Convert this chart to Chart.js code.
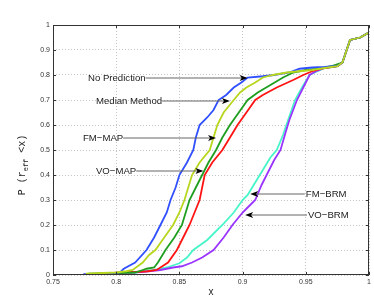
<!DOCTYPE html>
<html>
<head>
<meta charset="utf-8">
<script src="https://cdn.jsdelivr.net/npm/chart.js@4"></script>
<style>
  body { margin: 0; background: #fff; }
  canvas { display: block; }
</style>
</head>
<body>
<canvas id="cdf" width="374" height="298"></canvas>
<script>
// axis ticks
const xTicks = [0.75, 0.8, 0.85, 0.9, 0.95, 1];
const yTicks = [0, 0.1, 0.2, 0.3, 0.4, 0.5, 0.6, 0.7, 0.8, 0.9, 1];

// series
const noPredX = [0.774, 0.790, 0.803, 0.806, 0.815, 0.824, 0.830, 0.835, 0.840, 0.843, 0.847, 0.850, 0.856, 0.861, 0.863, 0.866, 0.872, 0.877, 0.881, 0.887, 0.893, 0.899, 0.904, 0.916, 0.925, 0.937, 0.945, 0.955, 0.965, 0.975, 0.979, 0.985, 0.993, 1.0];
const noPredY = [0.003, 0.005, 0.01, 0.025, 0.05, 0.10, 0.15, 0.20, 0.25, 0.30, 0.35, 0.40, 0.45, 0.50, 0.55, 0.60, 0.63, 0.66, 0.70, 0.72, 0.75, 0.77, 0.79, 0.795, 0.80, 0.81, 0.825, 0.83, 0.832, 0.836, 0.85, 0.94, 0.95, 0.97];

const medianX = [0.776, 0.790, 0.800, 0.808, 0.813, 0.821, 0.826, 0.831, 0.838, 0.845, 0.850, 0.854, 0.857, 0.860, 0.866, 0.874, 0.877, 0.880, 0.885, 0.893, 0.898, 0.903, 0.910, 0.916, 0.924, 0.935, 0.945, 0.955, 0.965, 0.975, 0.979, 0.985, 0.993, 1.0];
const medianY = [0.005, 0.008, 0.01, 0.015, 0.02, 0.05, 0.08, 0.10, 0.15, 0.20, 0.25, 0.30, 0.35, 0.40, 0.45, 0.50, 0.55, 0.60, 0.65, 0.70, 0.73, 0.75, 0.77, 0.79, 0.80, 0.81, 0.815, 0.82, 0.828, 0.835, 0.85, 0.94, 0.95, 0.97];

const fmMapX = [0.778, 0.800, 0.815, 0.821, 0.824, 0.830, 0.833, 0.839, 0.846, 0.852, 0.855, 0.858, 0.863, 0.868, 0.873, 0.879, 0.884, 0.890, 0.897, 0.904, 0.912, 0.922, 0.932, 0.940, 0.950, 0.960, 0.970, 0.979, 0.985, 0.993, 1.0];
const fmMapY = [0.005, 0.008, 0.01, 0.02, 0.025, 0.03, 0.05, 0.10, 0.15, 0.20, 0.25, 0.30, 0.35, 0.40, 0.45, 0.50, 0.55, 0.60, 0.65, 0.70, 0.73, 0.76, 0.79, 0.81, 0.82, 0.825, 0.835, 0.85, 0.94, 0.95, 0.97];

const voMapX = [0.787, 0.805, 0.815, 0.825, 0.832, 0.838, 0.841, 0.848, 0.853, 0.858, 0.862, 0.866, 0.868, 0.870, 0.876, 0.884, 0.890, 0.896, 0.903, 0.910, 0.916, 0.927, 0.940, 0.948, 0.955, 0.965, 0.975, 0.979, 0.985, 0.993, 1.0];
const voMapY = [0.005, 0.01, 0.012, 0.015, 0.02, 0.04, 0.05, 0.10, 0.15, 0.20, 0.25, 0.30, 0.35, 0.40, 0.45, 0.50, 0.55, 0.60, 0.65, 0.70, 0.72, 0.75, 0.78, 0.80, 0.815, 0.828, 0.835, 0.85, 0.94, 0.95, 0.97];

const fmBrmX = [0.781, 0.800, 0.815, 0.830, 0.840, 0.850, 0.856, 0.861, 0.872, 0.884, 0.893, 0.900, 0.904, 0.910, 0.916, 0.922, 0.927, 0.932, 0.936, 0.9415, 0.947, 0.953, 0.957, 0.965, 0.975, 0.979, 0.985, 0.993, 1.0];
const fmBrmY = [0.003, 0.005, 0.01, 0.02, 0.03, 0.047, 0.07, 0.10, 0.14, 0.20, 0.25, 0.30, 0.32, 0.37, 0.42, 0.47, 0.50, 0.56, 0.62, 0.70, 0.75, 0.80, 0.81, 0.828, 0.835, 0.85, 0.94, 0.95, 0.97];

const voBrmX = [0.787, 0.800, 0.820, 0.835, 0.845, 0.852, 0.860, 0.868, 0.877, 0.885, 0.892, 0.900, 0.904, 0.910, 0.915, 0.919, 0.925, 0.930, 0.934, 0.937, 0.943, 0.948, 0.953, 0.958, 0.965, 0.975, 0.979, 0.985, 0.993, 1.0];
const voBrmY = [0.003, 0.008, 0.012, 0.02, 0.03, 0.035, 0.05, 0.07, 0.10, 0.15, 0.20, 0.25, 0.27, 0.30, 0.36, 0.40, 0.46, 0.50, 0.57, 0.62, 0.70, 0.75, 0.80, 0.815, 0.828, 0.835, 0.85, 0.94, 0.95, 0.97];

// labelled arrows: label, text anchor (data), arrow tip (data), side of text
const notes = [
  { text: 'No Prediction', tx: 0.7777, ty: 0.788, hx: 0.904, hy: 0.788, side: 'left' },
  { text: 'Median Method', tx: 0.784, ty: 0.696, hx: 0.890, hy: 0.696, side: 'left' },
  { text: 'FM\u2212MAP', tx: 0.7737, ty: 0.548, hx: 0.879, hy: 0.548, side: 'left' },
  { text: 'VO\u2212MAP', tx: 0.784, ty: 0.416, hx: 0.869, hy: 0.416, side: 'left' },
  { text: 'FM\u2212BRM', tx: 0.950, ty: 0.324, hx: 0.906, hy: 0.324, side: 'right' },
  { text: 'VO\u2212BRM', tx: 0.9517, ty: 0.240, hx: 0.902, hy: 0.240, side: 'right' }
];

function pts(xs, ys) {
  return xs.map((x, i) => ({ x: x, y: ys[i] }));
}

function series(label, xs, ys, color) {
  return {
    label: label,
    data: pts(xs, ys),
    borderColor: color,
    backgroundColor: color,
    borderWidth: 1.8,
    pointRadius: 0,
    tension: 0,
    fill: false
  };
}

const tickFmt = v => String(Number(v.toFixed(2)));

// frame, inner tick marks, arrows and axis titles drawn on top
const extras = {
  id: 'extras',
  afterDatasetsDraw(chart) {
    const ctx = chart.ctx;
    const a = chart.chartArea;
    const xs = chart.scales.x, ys = chart.scales.y;
    ctx.save();
    ctx.strokeStyle = '#333';
    ctx.lineWidth = 1;
    ctx.strokeRect(a.left + 0.5, a.top + 0.5, a.right - a.left - 1, a.bottom - a.top - 1);

    // MATLAB style ticks pointing inward
    ctx.beginPath();
    yTicks.forEach(v => {
      const y = Math.round(ys.getPixelForValue(v)) + 0.5;
      ctx.moveTo(a.left, y); ctx.lineTo(a.left + 3, y);
      ctx.moveTo(a.right, y); ctx.lineTo(a.right - 3, y);
    });
    xTicks.forEach(v => {
      const x = Math.round(xs.getPixelForValue(v)) + 0.5;
      ctx.moveTo(x, a.bottom); ctx.lineTo(x, a.bottom - 3);
      ctx.moveTo(x, a.top); ctx.lineTo(x, a.top + 3);
    });
    ctx.stroke();

    ctx.font = '9.6px "Liberation Sans", Arial, sans-serif';
    ctx.textBaseline = 'middle';
    notes.forEach(n => {
      const tx = xs.getPixelForValue(n.tx);
      const ty = ys.getPixelForValue(n.ty);
      const hx = xs.getPixelForValue(n.hx);
      const hy = ys.getPixelForValue(n.hy);
      const w = ctx.measureText(n.text).width;
      ctx.fillStyle = '#222';
      ctx.textAlign = 'left';
      ctx.fillText(n.text, tx, ty);
      const start = n.side === 'left' ? tx + w : tx - 1;
      const dir = hx > start ? 1 : -1;
      ctx.strokeStyle = '#666';
      ctx.lineWidth = 1;
      ctx.beginPath();
      ctx.moveTo(start, ty);
      ctx.lineTo(hx - dir * 6, hy);
      ctx.stroke();
      ctx.fillStyle = '#000';
      ctx.beginPath();
      ctx.moveTo(hx, hy);
      ctx.lineTo(hx - dir * 8, hy - 3);
      ctx.lineTo(hx - dir * 6, hy);
      ctx.lineTo(hx - dir * 8, hy + 3);
      ctx.closePath();
      ctx.fill();
    });

    // x title
    ctx.fillStyle = '#222';
    ctx.textAlign = 'center';
    ctx.font = '10px "Liberation Sans", Arial, sans-serif';
    ctx.fillText('x', (a.left + a.right) / 2, 292);

    // y title with subscript
    ctx.translate(22, 165);
    ctx.rotate(-Math.PI / 2);
    const main = '10px "Liberation Mono", monospace';
    const sub = '7px "Liberation Mono", monospace';
    const parts = [['P (r', main, 0], ['eff', sub, 4], [' <x)', main, 0]];
    let total = 0;
    parts.forEach(p => { ctx.font = p[1]; total += ctx.measureText(p[0]).width; });
    let x = -total / 2;
    ctx.textAlign = 'left';
    parts.forEach(p => {
      ctx.font = p[1];
      ctx.fillText(p[0], x, p[2]);
      x += ctx.measureText(p[0]).width;
    });
    ctx.restore();
  }
};

const ctx = document.getElementById('cdf').getContext('2d');
new Chart(ctx, {
  type: 'line',
  data: {
    datasets: [
      series('Median Method', medianX, medianY, '#b7d61e'),
      series('No Prediction', noPredX, noPredY, '#3050ff'),
      series('FM-MAP', fmMapX, fmMapY, '#1e9e1e'),
      series('VO-MAP', voMapX, voMapY, '#ff1414'),
      series('VO-BRM', voBrmX, voBrmY, '#9a34ff'),
      series('FM-BRM', fmBrmX, fmBrmY, '#46f5c8')
    ]
  },
  options: {
    responsive: false,
    animation: false,
    layout: { padding: { left: 0, top: 25, right: 5, bottom: 0 } },
    plugins: { legend: { display: false }, tooltip: { enabled: false } },
    scales: {
      x: {
        type: 'linear',
        min: 0.75,
        max: 1,
        afterBuildTicks: s => { s.ticks = xTicks.map(v => ({ value: v })); },
        afterFit: s => { s.height = 23; },
        grid: { color: '#c4c4c4', lineWidth: 1, drawTicks: false },
        border: { display: false, dash: [1, 2] },
        ticks: { padding: 3, color: '#333', font: { size: 7, family: '"Liberation Sans", Arial' }, maxRotation: 0, callback: tickFmt }
      },
      y: {
        type: 'linear',
        min: 0,
        max: 1,
        afterBuildTicks: s => { s.ticks = yTicks.map(v => ({ value: v })); },
        afterFit: s => { s.width = 53; },
        grid: { color: '#c4c4c4', lineWidth: 1, drawTicks: false },
        border: { display: false, dash: [1, 2] },
        ticks: { padding: 3, color: '#333', font: { size: 7, family: '"Liberation Sans", Arial' }, callback: tickFmt }
      }
    }
  },
  plugins: [extras]
});
</script>
</body>
</html>
